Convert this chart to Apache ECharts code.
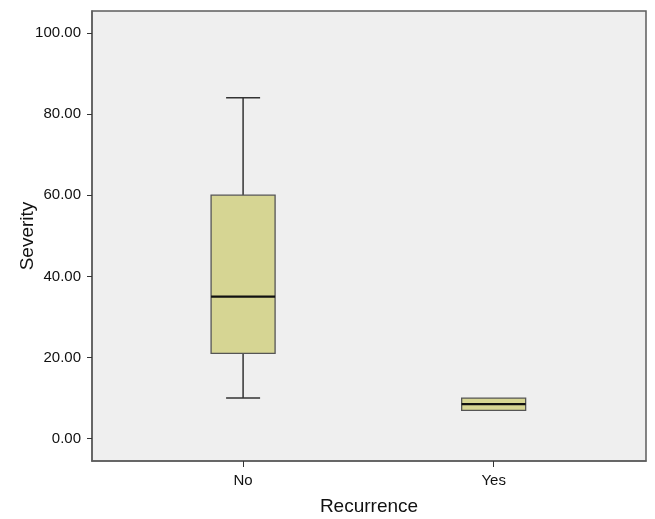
<!DOCTYPE html>
<html>
<head>
<meta charset="utf-8">
<script src="https://cdn.jsdelivr.net/npm/echarts@6/dist/echarts.min.js"></script>
<style>
html,body{margin:0;padding:0;background:#fff;}
#chart{width:655px;height:519px;}
</style>
</head>
<body>
<div id="chart"></div>
<script>
var categories = ['No', 'Yes'];
var mins = [10, 7];
var q1s = [21, 7];
var medians = [35, 8.5];
var q3s = [60, 10];
var maxs = [84, 10];
var yTicks = [0, 20, 40, 60, 80, 100];

var data = categories.map(function (c, i) {
  return [i, mins[i], q1s[i], medians[i], q3s[i], maxs[i]];
});

var BOX_W = 64;
var CAP_W = 34;
var FILL = '#d6d593';
var STROKE = '#333333';

function renderItem(params, api) {
  var x = api.value(0);
  var pMin = api.coord([x, api.value(1)]);
  var pQ1 = api.coord([x, api.value(2)]);
  var pMed = api.coord([x, api.value(3)]);
  var pQ3 = api.coord([x, api.value(4)]);
  var pMax = api.coord([x, api.value(5)]);
  var cx = pMed[0];
  var hw = BOX_W / 2, hc = CAP_W / 2;
  var children = [];
  if (pMax[1] < pQ3[1]) {
    children.push({type: 'line', shape: {x1: cx, y1: pMax[1], x2: cx, y2: pQ3[1]}, style: {stroke: STROKE, lineWidth: 1.5}});
    children.push({type: 'line', shape: {x1: cx - hc, y1: pMax[1], x2: cx + hc, y2: pMax[1]}, style: {stroke: STROKE, lineWidth: 1.5}});
  }
  if (pMin[1] > pQ1[1]) {
    children.push({type: 'line', shape: {x1: cx, y1: pQ1[1], x2: cx, y2: pMin[1]}, style: {stroke: STROKE, lineWidth: 1.5}});
    children.push({type: 'line', shape: {x1: cx - hc, y1: pMin[1], x2: cx + hc, y2: pMin[1]}, style: {stroke: STROKE, lineWidth: 1.5}});
  }
  children.push({type: 'rect', shape: {x: cx - hw, y: pQ3[1], width: BOX_W, height: pQ1[1] - pQ3[1]}, style: {fill: FILL, stroke: '#555', lineWidth: 1.3}});
  children.push({type: 'line', shape: {x1: cx - hw, y1: pMed[1], x2: cx + hw, y2: pMed[1]}, style: {stroke: '#111', lineWidth: 2.2}});
  return {type: 'group', children: children};
}

var chart = echarts.init(document.getElementById('chart'), null, {renderer: 'canvas'});
chart.setOption({
  animation: false,
  backgroundColor: '#ffffff',
  textStyle: {fontFamily: 'Liberation Sans, Arial, sans-serif'},
  grid: {
    left: 92, top: 11, right: 9, bottom: 58,
    outerBoundsMode: 'none', containLabel: false,
    show: true, backgroundColor: '#efefef', borderColor: '#5e5e5e', borderWidth: 1.5
  },
  xAxis: {
    type: 'value', min: -0.603, max: 1.608,
    name: 'Recurrence', nameLocation: 'middle', nameGap: 36,
    nameTextStyle: {fontSize: 19, color: '#111', fontFamily: 'Liberation Sans, Arial, sans-serif'},
    splitLine: {show: false},
    axisLine: {show: true, onZero: false, lineStyle: {color: '#5e5e5e', width: 1.5}},
    axisTick: {show: true, customValues: [0, 1], length: 6, lineStyle: {color: '#333'}},
    axisLabel: {customValues: [0, 1], margin: 12, fontSize: 15, color: '#111',
      formatter: function (v) { return categories[Math.round(v)]; }}
  },
  yAxis: {
    type: 'value', min: -5.5, max: 105.4,
    name: 'Severity', nameLocation: 'middle', nameGap: 55, nameMoveOverlap: false,
    nameTextStyle: {fontSize: 19, color: '#111', fontFamily: 'Liberation Sans, Arial, sans-serif'},
    splitLine: {show: false},
    axisLine: {show: true, onZero: false, lineStyle: {color: '#5e5e5e', width: 1.5}},
    axisTick: {show: true, customValues: yTicks, length: 5, lineStyle: {color: '#333'}},
    axisLabel: {customValues: yTicks, margin: 11, fontSize: 15, color: '#111',
      formatter: function (v) { return v.toFixed(2); }}
  },
  series: [{
    type: 'custom',
    renderItem: renderItem,
    encode: {x: 0, y: [1, 2, 3, 4, 5]},
    data: data
  }]
});
</script>
</body>
</html>
